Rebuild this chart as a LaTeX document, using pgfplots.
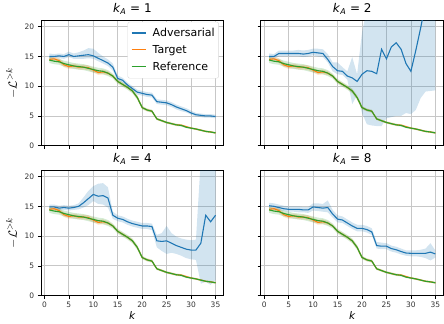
\documentclass[border=0pt]{standalone}
\usepackage{pgfplots}
\pgfplotsset{compat=1.18}
\usepackage{pgfplotstable}
\usepgfplotslibrary{fillbetween}
\usepackage{fontspec}
\setmainfont{DejaVu Sans}
\definecolor{mplblue}{rgb}{0.122,0.467,0.706}
\definecolor{mplorange}{rgb}{1.0,0.498,0.055}
\definecolor{mplgreen}{rgb}{0.173,0.627,0.173}

% k, reference (mean, lower, upper), target (mean, lower, upper)
\pgfplotstableread{
k r rl ru t tl tu
1 14.4 13.9 14.9 14.5 14.2 14.9
2 14.2 13.7 14.7 14.6 14.2 15.0
3 14.1 13.6 14.6 14.3 13.9 14.7
4 13.8 13.3 14.3 13.6 13.2 14.0
5 13.6 13.1 14.1 13.3 12.9 13.7
6 13.4 12.9 13.9 13.4 13.0 13.8
7 13.3 12.8 13.8 13.2 12.8 13.6
8 13.2 12.7 13.7 13.2 12.8 13.6
9 13.0 12.5 13.5 13.1 12.7 13.5
10 12.8 12.3 13.3 12.7 12.3 13.1
11 12.6 12.1 13.1 12.3 11.9 12.7
12 12.5 12.0 13.0 12.4 12.0 12.8
13 12.2 11.7 12.7 12.2 11.9 12.5
14 11.7 11.3 12.1 11.7 11.45 11.95
15 10.8 10.4 11.2 10.8 10.55 11.05
16 10.3 9.9 10.7 10.3 10.05 10.55
17 9.8 9.4 10.2 9.8 9.55 10.05
18 9.2 8.8 9.6 9.2 8.95 9.45
19 8.1 7.7 8.5 8.1 7.85 8.35
20 6.4 6.1 6.7 6.4 6.2 6.6
21 6.0 5.75 6.25 6.0 5.8 6.2
22 5.8 5.55 6.05 5.8 5.6 6.0
23 4.5 4.3 4.7 4.5 4.35 4.65
24 4.2 4.0 4.4 4.2 4.05 4.35
25 3.9 3.7 4.1 3.9 3.75 4.05
26 3.7 3.5 3.9 3.7 3.55 3.85
27 3.5 3.3 3.7 3.5 3.35 3.65
28 3.4 3.2 3.6 3.45 3.3 3.6
29 3.1 2.95 3.25 3.2 3.05 3.35
30 2.95 2.8 3.1 2.95 2.8 3.1
31 2.8 2.65 2.95 2.8 2.65 2.95
32 2.6 2.45 2.75 2.6 2.45 2.75
33 2.4 2.25 2.55 2.4 2.25 2.55
34 2.3 2.15 2.45 2.3 2.15 2.45
35 2.15 2.0 2.3 2.15 2.0 2.3
}\base

\pgfplotstableread{
k m l u
1 15.0 14.6 15.5
2 15.0 14.7 15.4
3 15.1 14.7 15.5
4 15.0 14.6 15.4
5 15.3 14.9 15.8
6 15.0 14.6 15.5
7 15.1 14.6 15.7
8 15.2 14.6 16.0
9 15.3 14.7 16.4
10 15.1 14.6 16.3
11 14.7 14.2 15.6
12 14.3 13.8 15.0
13 13.9 13.4 14.5
14 13.2 12.6 13.8
15 11.3 10.9 11.8
16 11.0 10.6 11.4
17 10.2 9.8 10.6
18 9.6 9.2 10.0
19 9.0 8.6 9.4
20 8.8 8.4 9.2
21 8.6 8.2 9.0
22 8.5 8.1 8.9
23 7.4 7.0 7.8
24 7.3 6.9 7.7
25 7.2 6.8 7.6
26 6.9 6.5 7.3
27 6.5 6.1 6.9
28 6.2 5.8 6.6
29 5.9 5.6 6.3
30 5.5 5.2 5.9
31 5.2 4.9 5.5
32 5.1 4.8 5.4
33 5.0 4.7 5.3
34 5.0 4.7 5.3
35 4.9 4.6 5.2
}\advA

\pgfplotstableread{
k m l u
1 15.0 14.6 15.5
2 15.0 14.6 15.4
3 15.5 15.0 16.0
4 15.5 15.0 16.0
5 15.5 15.0 16.0
6 15.5 15.0 16.0
7 15.5 15.0 16.1
8 15.4 14.9 16.0
9 15.5 15.0 16.1
10 15.7 15.2 16.3
11 15.6 15.0 16.3
12 15.5 14.9 16.2
13 14.5 14.0 15.4
14 13.3 12.5 14.0
15 12.6 12.0 14.0
16 12.5 11.9 13.2
17 11.7 11.1 12.5
18 11.4 7.0 14.9
19 10.8 8.5 12.0
20 12.0 5.5 19.0
21 12.6 3.6 23
22 12.5 3.4 23
23 12.1 3.3 23
24 16.2 3.3 23
25 14.6 4.6 23
26 16.6 4.8 23
27 17.3 5.0 23
28 16.2 5.0 23
29 13.8 5.5 23
30 12.5 5.3 23
31 16.0 6.0 23
32 19.8 8.0 25
33 24.0 9.1 28
34 27.0 9.2 30
35 30.0 9.3 32
}\advB

\pgfplotstableread{
k m l u
1 14.9 14.5 15.3
2 14.9 14.5 15.3
3 14.7 14.3 15.1
4 14.8 14.4 15.2
5 14.7 14.3 15.1
6 14.8 14.4 15.2
7 15.0 14.5 15.5
8 15.6 14.8 16.5
9 16.3 15.2 17.6
10 17.0 15.9 18.4
11 16.7 15.4 18.8
12 16.8 15.3 18.9
13 16.4 14.8 18.2
14 13.5 12.9 14.1
15 13.0 12.5 13.5
16 12.8 12.3 13.3
17 12.4 11.9 12.9
18 12.1 11.6 12.6
19 11.9 11.4 12.4
20 11.7 11.2 12.2
21 11.7 11.2 12.2
22 11.6 11.0 12.1
23 9.2 8.1 10.2
24 9.1 7.5 10.5
25 9.2 7.0 11.7
26 8.8 7.2 10.5
27 8.4 7.0 9.9
28 8.1 6.7 9.6
29 7.8 6.3 9.4
30 7.65 6.1 9.3
31 7.65 6.0 9.4
32 8.8 2.0 23
33 13.5 2.3 25
34 12.4 1.8 25
35 13.5 2.6 25
}\advC

\pgfplotstableread{
k m l u
1 15.1 14.6 15.6
2 15.0 14.5 15.5
3 14.8 14.4 15.3
4 14.6 14.2 15.1
5 14.5 14.1 15.0
6 14.5 14.1 15.0
7 14.5 14.0 15.0
8 14.4 14.0 14.9
9 14.4 13.9 14.9
10 14.9 14.3 15.5
11 14.8 14.2 15.5
12 14.7 14.1 15.4
13 14.8 14.0 16.0
14 13.7 13.1 14.4
15 12.85 12.3 13.5
16 12.7 12.2 13.3
17 12.2 11.7 12.8
18 11.7 11.2 12.3
19 11.3 10.8 11.9
20 11.3 10.8 11.9
21 11.1 10.6 11.7
22 10.7 10.2 11.3
23 8.4 7.9 9.0
24 8.3 7.8 8.9
25 8.3 7.8 8.8
26 7.9 7.4 8.4
27 7.7 7.2 8.2
28 7.4 6.9 7.9
29 7.15 6.7 7.6
30 7.1 6.6 7.6
31 7.1 6.6 7.6
32 7.1 6.5 7.7
33 7.1 6.3 7.9
34 7.3 5.9 8.8
35 7.0 6.4 7.6
}\advD

\newcommand{\band}[5]{%
  \addplot[draw=none, name path=#1u, forget plot] table[x=k,y=#4]{#2};
  \addplot[draw=none, name path=#1l, forget plot] table[x=k,y=#3]{#2};
  \addplot[fill=#5, fill opacity=0.2, draw=none, forget plot] fill between[of=#1u and #1l];
}
\newcommand{\panel}[2]{%
  \band{#2a}{#1}{l}{u}{mplblue}
  \band{#2t}{\base}{tl}{tu}{mplorange}
  \band{#2r}{\base}{rl}{ru}{mplgreen}
  \addplot[draw=mplblue, line width=1.1pt, forget plot] table[x=k,y=m]{#1};
  \addplot[draw=mplorange, line width=1.1pt, forget plot] table[x=k,y=t]{\base};
  \addplot[draw=mplgreen, line width=1.1pt, forget plot] table[x=k,y=r]{\base};
}
\newcommand{\lgline}[1]{\textcolor{#1}{\rule[3pt]{14pt}{1.4pt}}}
\pgfplotsset{
  panel/.style={
    anchor=south west,
    width=183pt, height=125pt, scale only axis,
    xmin=-0.7, xmax=36.7, ymin=0, ymax=21,
    xtick={0,5,...,35}, ytick={0,5,10,15,20},
    grid=major,
    major grid style={color=black!22, line width=0.7pt},
    tick align=outside, tick pos=left,
    major tick length=3.2pt,
    tick style={black, line width=0.6pt},
    axis line style={line width=0.7pt},
    ticklabel style={font=\fontsize{7.5}{8}\selectfont, text=black!80},
    /pgf/number format/assume math mode=true,
    title style={font=\fontsize{12}{13}\selectfont, yshift=-3pt},
    xlabel style={font=\fontsize{10.5}{11}\selectfont, yshift=3pt},
    ylabel style={font=\fontsize{13}{14}\selectfont},
  },
  nox/.style={xticklabels={}},
  noy/.style={yticklabels={}},
}

\begin{document}
\begin{tikzpicture}
\begin{axis}[panel, nox, at={(41pt,177pt)},
  title={\textit{k}\textsubscript{\textit{A}} = 1},
  ylabel={$-\mathcal{L}^{>k}$},
]
\panel{\advA}{p}
\node[anchor=north east, xshift=-5pt, yshift=-1pt, draw=black!15, fill=white,
      rounded corners=2pt, inner xsep=4pt, inner ysep=3pt,
      font=\fontsize{11}{13.2}\selectfont] at (rel axis cs:1,1) {%
  \renewcommand{\arraystretch}{1.27}%
  \begin{tabular}{@{}l@{\hspace{7pt}}l@{}}
  \lgline{mplblue} & Adversarial\\
  \lgline{mplorange} & Target\\
  \lgline{mplgreen} & Reference
  \end{tabular}};
\end{axis}
\begin{axis}[panel, nox, noy, at={(261pt,177pt)},
  title={\textit{k}\textsubscript{\textit{A}} = 2}]
\panel{\advB}{q}
\end{axis}
\begin{axis}[panel, at={(41pt,27pt)},
  title={\textit{k}\textsubscript{\textit{A}} = 4},
  ylabel={$-\mathcal{L}^{>k}$}, xlabel={\textit{k}}]
\panel{\advC}{s}
\end{axis}
\begin{axis}[panel, noy, at={(261pt,27pt)},
  title={\textit{k}\textsubscript{\textit{A}} = 8}, xlabel={\textit{k}}]
\panel{\advD}{w}
\end{axis}
\path (0,0) rectangle (444pt,322pt);
\end{tikzpicture}
\end{document}
